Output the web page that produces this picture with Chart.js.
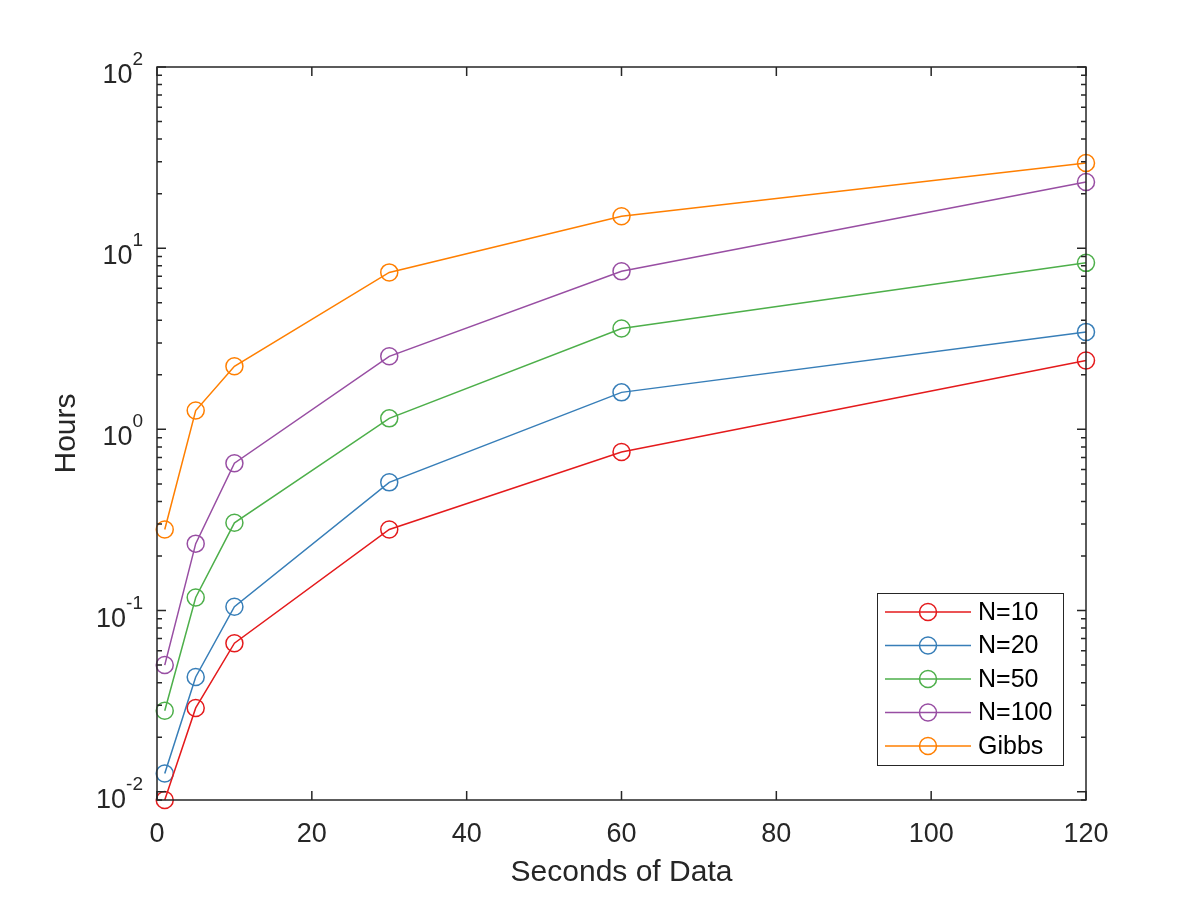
<!DOCTYPE html>
<html>
<head>
<meta charset="utf-8">
<script src="https://cdn.jsdelivr.net/npm/chart.js@4.4.0/dist/chart.umd.min.js"></script>
<style>
  body { margin: 0; background: #fff; }
</style>
</head>
<body>
<canvas id="chart" width="1200" height="900"></canvas>
<script>
const seconds = [1, 5, 10, 30, 60, 120];
const n10 = [0.009, 0.029, 0.066, 0.28, 0.75, 2.4];
const n20 = [0.0126, 0.043, 0.105, 0.51, 1.6, 3.45];
const n50 = [0.028, 0.118, 0.305, 1.15, 3.6, 8.3];
const n100 = [0.050, 0.234, 0.65, 2.53, 7.45, 23.2];
const gibbs = [0.28, 1.27, 2.23, 7.35, 15.0, 29.5];

const seriesNames = ['N=10', 'N=20', 'N=50', 'N=100', 'Gibbs'];
const seriesValues = [n10, n20, n50, n100, gibbs];
const seriesColors = ['#e41a1c', '#377eb8', '#4daf4a', '#984ea3', '#ff7f00'];

const xTicks = [0, 20, 40, 60, 80, 100, 120];
const yTicks = [0.01, 0.1, 1, 10, 100];
const yTickExponents = ['-2', '-1', '0', '1', '2'];

const axisColor = '#262626';
const fontFamily = '"Liberation Sans", Arial, Helvetica, sans-serif';

const datasets = seriesValues.map((vals, i) => ({
  label: seriesNames[i],
  data: vals.map((v, j) => ({ x: seconds[j], y: v })),
  borderColor: seriesColors[i],
  borderWidth: 1.5,
  pointRadius: 8.5,
  pointHoverRadius: 8.5,
  pointBorderWidth: 1.5,
  pointBackgroundColor: 'rgba(0,0,0,0)',
  pointBorderColor: seriesColors[i],
  fill: false,
  tension: 0,
  clip: false
}));

// MATLAB style frame: box, inward ticks, superscript labels, legend
const matlabAxes = {
  id: 'matlabAxes',
  afterDraw(chart) {
    const ctx = chart.ctx;
    const area = chart.chartArea;
    const xs = chart.scales.x;
    const ys = chart.scales.y;
    ctx.save();

    ctx.strokeStyle = axisColor;
    ctx.lineWidth = 1.5;
    ctx.strokeRect(area.left, area.top, area.right - area.left, area.bottom - area.top);

    // x ticks
    ctx.beginPath();
    xTicks.forEach(t => {
      const px = xs.getPixelForValue(t);
      ctx.moveTo(px, area.bottom); ctx.lineTo(px, area.bottom - 9);
      ctx.moveTo(px, area.top); ctx.lineTo(px, area.top + 9);
    });
    // y ticks, major and minor
    for (let e = -3; e <= 2; e++) {
      for (let m = 1; m <= 9; m++) {
        const v = m * Math.pow(10, e);
        if (v < ys.min || v > ys.max) continue;
        const py = ys.getPixelForValue(v);
        const len = m === 1 ? 9 : 5;
        ctx.moveTo(area.left, py); ctx.lineTo(area.left + len, py);
        ctx.moveTo(area.right, py); ctx.lineTo(area.right - len, py);
      }
    }
    ctx.stroke();

    ctx.fillStyle = axisColor;
    // x tick labels
    ctx.font = '27px ' + fontFamily;
    ctx.textAlign = 'center';
    ctx.textBaseline = 'top';
    xTicks.forEach(t => {
      ctx.fillText(String(t), xs.getPixelForValue(t), area.bottom + 21);
    });

    // y tick labels 10^n
    yTicks.forEach((t, i) => {
      const py = ys.getPixelForValue(t);
      const right = area.left - 14;
      ctx.font = '19px ' + fontFamily;
      const ew = ctx.measureText(yTickExponents[i]).width;
      ctx.textAlign = 'right';
      ctx.textBaseline = 'alphabetic';
      ctx.fillText(yTickExponents[i], right, py - 2);
      ctx.font = '27px ' + fontFamily;
      ctx.fillText('10', right - ew, py + 16);
    });

    // axis titles
    ctx.font = '30px ' + fontFamily;
    ctx.textAlign = 'center';
    ctx.textBaseline = 'middle';
    ctx.fillText('Seconds of Data', (area.left + area.right) / 2, 873);
    ctx.save();
    ctx.translate(67, (area.top + area.bottom) / 2);
    ctx.rotate(-Math.PI / 2);
    ctx.fillText('Hours', 0, 0);
    ctx.restore();

    // legend
    const lx = 877, ly = 593, lw = 186, lh = 172;
    ctx.fillStyle = '#fff';
    ctx.fillRect(lx, ly, lw, lh);
    ctx.strokeStyle = axisColor;
    ctx.lineWidth = 1;
    ctx.strokeRect(lx + 0.5, ly + 0.5, lw, lh);
    ctx.font = '25px ' + fontFamily;
    ctx.textAlign = 'left';
    ctx.textBaseline = 'middle';
    seriesNames.forEach((name, i) => {
      const cy = 612 + i * 33.5;
      ctx.strokeStyle = seriesColors[i];
      ctx.lineWidth = 1.5;
      ctx.beginPath();
      ctx.moveTo(885, cy); ctx.lineTo(971, cy);
      ctx.stroke();
      ctx.beginPath();
      ctx.arc(928, cy, 8.5, 0, Math.PI * 2);
      ctx.stroke();
      ctx.fillStyle = '#000';
      ctx.fillText(name, 978, cy + 1);
    });

    ctx.restore();
  }
};

const ctx = document.getElementById('chart').getContext('2d');
new Chart(ctx, {
  type: 'line',
  data: { datasets: datasets },
  options: {
    responsive: false,
    animation: false,
    devicePixelRatio: 1,
    layout: { padding: { left: 0, right: 114, top: 67, bottom: 0 } },
    plugins: {
      legend: { display: false },
      tooltip: { enabled: false }
    },
    scales: {
      x: {
        type: 'linear',
        min: 0,
        max: 120,
        grid: { display: false },
        border: { display: false },
        ticks: { display: false },
        afterFit(scale) { scale.height = 100; }
      },
      y: {
        type: 'logarithmic',
        min: 0.009,
        max: 100,
        grid: { display: false },
        border: { display: false },
        ticks: { display: false },
        afterFit(scale) { scale.width = 157; }
      }
    }
  },
  plugins: [matlabAxes]
});
</script>
</body>
</html>
